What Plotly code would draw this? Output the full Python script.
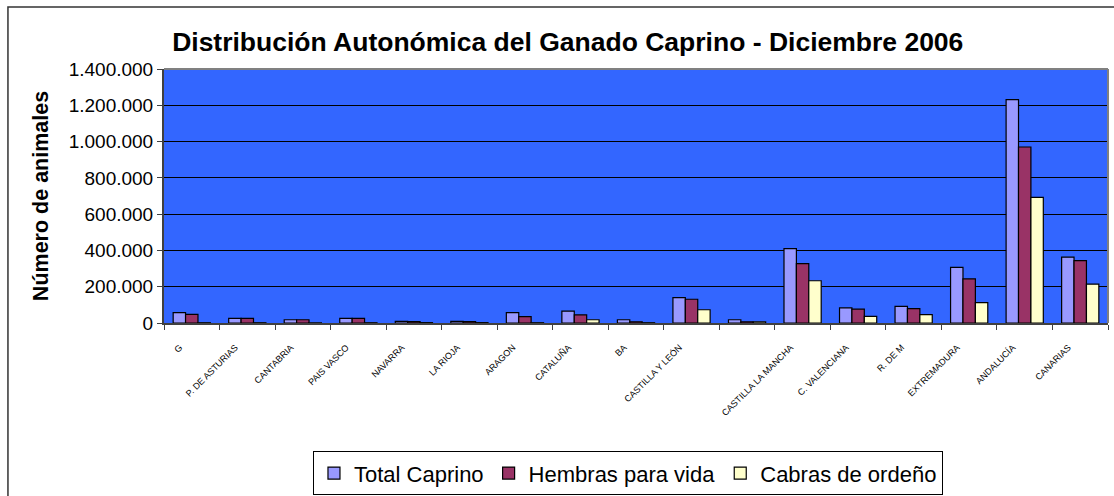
import plotly.graph_objects as go

# comunidades autónomas (orden del gráfico original)
comunidades = [
    "GALICIA", "P. DE ASTURIAS", "CANTABRIA", "PAIS VASCO", "NAVARRA",
    "LA RIOJA", "ARAGON", "CATALUÑA", "BALEARES", "CASTILLA Y LEÓN",
    "MADRID", "CASTILLA LA MANCHA", "C. VALENCIANA", "R. DE MURCIA",
    "EXTREMADURA", "ANDALUCÍA", "CANARIAS",
]
# etiquetas tal y como aparecen (recortadas) en el original
etiquetas = [
    "G", "P. DE ASTURIAS", "CANTABRIA", "PAIS VASCO", "NAVARRA",
    "LA RIOJA", "ARAGON", "CATALUÑA", "BA", "CASTILLA Y LEÓN",
    "", "CASTILLA LA MANCHA", "C. VALENCIANA", "R. DE M",
    "EXTREMADURA", "ANDALUCÍA", "CANARIAS",
]

total_caprino = [57000, 26000, 18000, 26000, 9000, 9000, 57000, 66000, 18000,
                 140000, 18000, 410000, 83000, 92000, 307000, 1231000, 363000]
hembras_vida = [48000, 26000, 18000, 26000, 8000, 8000, 35000, 45000, 7000,
                131000, 7000, 327000, 76000, 79000, 243000, 970000, 344000]
cabras_ordeno = [1500, 1500, 1000, 1500, 2000, 2000, 1500, 18000, 1500,
                 73000, 7000, 233000, 37000, 46000, 112000, 692000, 214000]

FONT = "Liberation Sans, Arial, sans-serif"

fig = go.Figure()
for nombre, valores, color in [
    ("Total Caprino", total_caprino, "#9999FF"),
    ("Hembras para vida", hembras_vida, "#993366"),
    ("Cabras de ordeño", cabras_ordeno, "#FFFFCC"),
]:
    fig.add_trace(go.Bar(
        x=comunidades, y=valores, name=nombre,
        marker=dict(color=color, line=dict(color="black", width=1.2)),
    ))

# marco exterior del gráfico (como en Excel)
fig.add_shape(type="rect", xref="paper", yref="paper",
              x0=-0.1653, x1=1.02, y0=-0.72, y1=1.244,
              line=dict(color="#333333", width=1.5), layer="below")

fig.update_layout(
    width=1114, height=496,
    margin=dict(l=164, r=6, t=69, b=173, autoexpand=False),
    paper_bgcolor="white",
    plot_bgcolor="#3366FF",
    separators=",.",
    barmode="group",
    bargap=0.33,
    bargroupgap=0,
    font=dict(family=FONT, color="black"),
    title=dict(
        text="<b>Distribución Autonómica del Ganado Caprino - Diciembre 2006</b>",
        x=0.4277, xanchor="center", xref="paper",
        y=0.915, yanchor="middle", yref="container",
        font=dict(size=26.5, family=FONT, color="black"),
    ),
    legend=dict(
        orientation="h",
        x=0.4915, xanchor="center",
        y=-0.505, yanchor="top",
        bordercolor="black", borderwidth=1,
        font=dict(size=22, family=FONT),
        itemwidth=30,
        tracegroupgap=0,
    ),
    showlegend=True,
)

fig.update_xaxes(
    tickmode="array", tickvals=comunidades, ticktext=etiquetas,
    tickangle=-45, tickfont=dict(size=9, family=FONT),
    ticklabelshift=-12, ticklabelstandoff=14,
    ticks="outside", tickson="boundaries", ticklen=5, tickcolor="#404040",
    showline=True, linecolor="#404040", linewidth=1.5, mirror=False,
    showgrid=False, automargin=False,
)
fig.update_yaxes(
    range=[0, 1400000], dtick=200000, tickformat=",d",
    tickfont=dict(size=19, family=FONT),
    ticks="outside", ticklen=5, tickcolor="#404040",
    showline=True, linecolor="#404040", linewidth=2, mirror=False,
    showgrid=True, gridcolor="black", gridwidth=1,
    zeroline=False, automargin=False,
    title=dict(text="<b>Número de animales</b>", font=dict(size=21.5, family=FONT),
               standoff=14),
)

# borde gris superior y derecho del área de trazado
fig.add_shape(type="line", xref="paper", yref="paper", x0=0, x1=1, y0=1, y1=1,
              line=dict(color="#808080", width=2))
fig.add_shape(type="line", xref="paper", yref="paper", x0=1, x1=1, y0=0, y1=1,
              line=dict(color="#808080", width=2))

# sin margen de página, para que el gráfico ocupe la ventana entera
fig.write_html("out.html", config={"displayModeBar": False},
               post_script="document.body.style.margin = '0';")
